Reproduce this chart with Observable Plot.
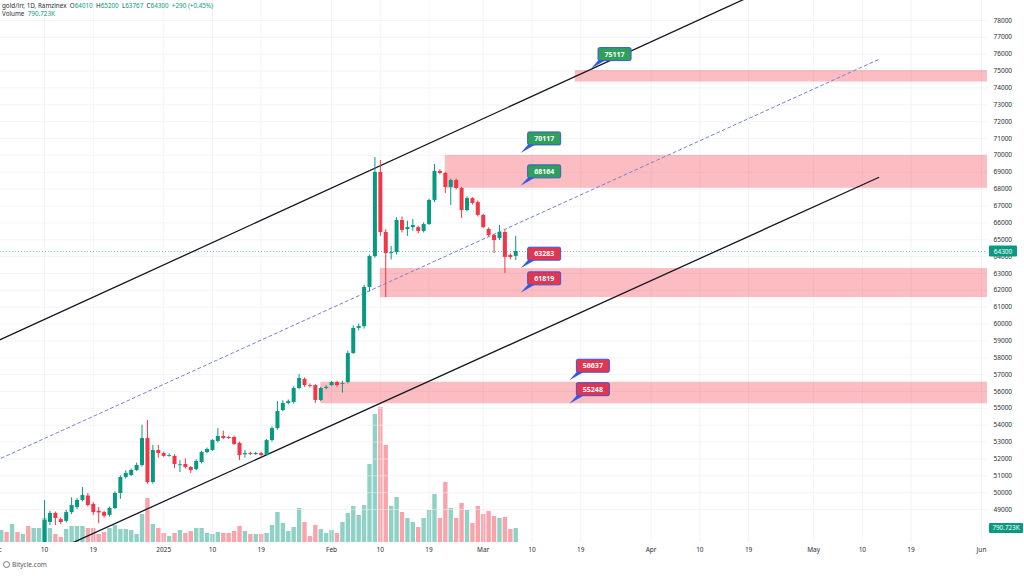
<!DOCTYPE html>
<html><head><meta charset="utf-8">
<script src="https://cdn.jsdelivr.net/npm/d3@7"></script>
<script src="https://cdn.jsdelivr.net/npm/@observablehq/plot@0.6"></script>
<style>
html,body{margin:0;padding:0;background:#fff;}
#wrap{position:relative;width:1024px;height:576px;overflow:hidden;font-family:"Noto Sans",sans-serif;}
#vol,#price{position:absolute;left:0;top:0;}
#hdr{position:absolute;left:2px;top:1.5px;font-size:6.3px;color:#2a2e39;line-height:8.5px;white-space:pre;}
#hdr .v{color:#089981;}
#foot{position:absolute;left:3px;top:560px;font-size:6.5px;color:#555;}
#foot .logo{display:inline-block;width:5px;height:5px;border:1px solid #777;border-radius:50%;margin-right:2px;vertical-align:-1px;}
</style></head>
<body>
<div id="wrap">
  <div id="vol"></div>
  <div id="price"></div>
  <div id="hdr"></div>
  <div id="foot"><span class="logo"></span>Bitycle.com</div>
</div>
<script>
// ---------- DATA ----------
const firstCandle = "2024-12-10";   // daily bars, consecutive days
const opens  = [47050,48230,48770,48400,48300,48820,49120,49540,49800,49300,48900,48820,48650,49060,49950,50900,51020,51320,51610,53210,50600,52500,52320,52150,52150,51600,51670,51490,51370,51790,52380,52500,53040,53330,53270,53270,52920,52250,52320,52260,52320,52200,53090,53800,54870,55290,55350,56180,56710,56350,56350,55470,56180,56350,56530,56420,56530,58250,59740,59850,62170,64000,68990,65430,64180,64240,66140,65600,65720,65720,65490,65900,67330,69050,68930,68100,68510,68040,66730,67440,67200,66440,65610,65250,65070,65430,64060,64010];
const highs  = [49540,48900,48850,48500,48950,49700,49650,50300,49950,49400,49120,48900,49150,50050,51000,51300,51400,51750,54000,54280,52800,52800,52400,52300,52250,51900,52000,51550,51950,52450,52650,53150,53800,53650,53350,53350,53000,52500,52400,52400,52400,53150,53900,55400,55450,55500,56300,57010,56800,56450,56400,56250,56350,56600,56600,56600,58400,59900,60000,62300,64100,69880,69700,65600,64600,66300,66350,66100,66200,65800,66000,67400,69460,69150,69000,68600,68600,68100,67550,67500,67300,66500,65700,65300,65850,65550,64150,65200];
const lows   = [46950,48050,48050,48100,48200,48700,49000,49450,49150,48650,48170,48500,48550,49000,49600,50800,50950,51250,51500,50500,50500,52050,52100,52100,51430,51200,51400,51140,51300,51700,52300,52450,52950,53150,53150,52800,51900,52050,52200,52200,52100,52150,53000,53700,54800,55200,55250,56100,56250,56200,55290,55400,56100,56300,56250,55900,56450,58200,59600,59700,61900,63900,65200,61570,63800,64100,65400,65200,65500,65350,65400,65850,67200,68850,67740,67030,67950,66260,66650,67050,66350,65650,65150,64180,64950,63000,63800,63767];
const closes = [48350,48770,48470,48230,48820,49240,49540,49830,49240,48820,48800,48600,49060,49950,50900,51140,51320,51610,53210,50600,52500,52320,52150,52200,51670,51650,51490,51310,51850,52380,52560,53090,53330,53210,53210,52860,52200,52320,52260,52320,52200,53090,53800,54810,55290,55400,56180,56770,56350,56300,55470,56180,56240,56530,56350,56470,58250,59740,59850,62170,64000,68990,65430,64180,64240,66140,65550,65720,65840,65490,65900,67330,69050,68930,68100,68510,68040,66730,67440,67150,66440,65720,65250,64950,65430,63950,63950,64300];

const firstVolume = "2024-12-02";   // volume (thousands), consecutive days
const volumes = [678,565,1017,565,452,904,791,791,
  1356,791,452,282,734,904,904,904,791,791,452,565,791,960,734,734,678,452,1582,2486,1017,791,508,339,508,678,508,621,791,791,508,452,565,508,508,621,904,621,452,452,452,508,960,1695,1073,621,847,1921,1130,339,960,734,508,678,508,1130,1638,2034,1525,2090,4406,7231,7627,5480,2034,2542,1695,1356,1130,847,1356,1808,2712,1356,3390,1921,1356,2203,1808,1073,2034,1582,1751,1469,1356,1412,734,790.723];
const earlyVolumeUp = [true,false,true,false,true,false,true,true]; // Dec 2 – Dec 9 (candles off-screen)

const zoneStarts  = ["2025-03-18","2025-02-22","2025-02-10","2025-01-30"];
const zoneEnd     = "2025-06-15";
const zoneTops    = [75035,70000,63290,56550];
const zoneBottoms = [74350,68050,61570,55270];

const calloutDates  = ["2025-03-21","2025-03-08","2025-03-08","2025-03-08","2025-03-08","2025-03-17","2025-03-17"];
const calloutValues = [75117,70117,68164,63283,61819,56637,55248];
const calloutUp     = [true,true,true,false,false,false,false];

const upperChannelDates  = ["2024-12-01","2025-04-20"];
const upperChannelPrices = [58950,79530];
const lowerChannelDates  = ["2024-12-10","2025-05-13"];
const lowerChannelPrices = [46275,68690];
const midLineDates       = ["2024-12-01","2025-05-13"];
const midLinePrices      = [51900,75687];

const priceTicks = d3.range(49000, 78001, 1000);
const timeTickDates  = ["2024-12-01","2024-12-10","2024-12-19","2025-01-01","2025-01-10","2025-01-19","2025-02-01","2025-02-10","2025-02-19","2025-03-01","2025-03-10","2025-03-19","2025-04-01","2025-04-10","2025-04-19","2025-05-01","2025-05-10","2025-05-19","2025-06-01"];
const timeTickLabels = ["Dec","10","19","2025","10","19","Feb","10","19","Mar","10","19","Apr","10","19","May","10","19","Jun"];

const lastOpen = 64010, lastHigh = 65200, lastLow = 63767, lastClose = 64300, change = 290, changePct = 0.45;
const lastVolumeLabel = "790.723K";

// ---------- BUILD ----------
const UP = "#089981", DOWN = "#f23645";
const day = s => new Date(s + "T00:00:00Z");
const candles = opens.map((o, i) => ({date: d3.utcDay.offset(day(firstCandle), i), open: o, high: highs[i], low: lows[i], close: closes[i]}));
const candleUp = new Map(candles.map(c => [+c.date, c.close >= c.open]));
const vols = volumes.map((v, i) => {
  const date = d3.utcDay.offset(day(firstVolume), i);
  const up = i < earlyVolumeUp.length ? earlyVolumeUp[i] : candleUp.get(+date);
  return {date, v, up};
});
const zones = zoneStarts.map((s, i) => ({start: day(s), end: day(zoneEnd), top: zoneTops[i], bottom: zoneBottoms[i]}));
const pts = (ds, ps) => ds.map((d, i) => ({date: day(d), price: ps[i]}));
const tickDates = timeTickDates.map(day);
const tickLabelMap = new Map(timeTickDates.map((d, i) => [+day(d), timeTickLabels[i]]));

const W = 1024, H = 560, MR = 37, MB = 18;
const xDomain = [day("2024-12-01"), day("2025-06-01")], xRange = [-4.7, 981];
const baseStyle = {background: "transparent", fontFamily: "'Noto Sans', sans-serif", fontSize: "6.5px", color: "#2a2e39"};

function callouts(index, scales) {
  const g = d3.create("svg:g");
  calloutValues.forEach((v, i) => {
    const X = scales.x(day(calloutDates[i])), Y = scales.y(v);
    g.append("path").attr("d", `M${X},${Y}L${X + 8},${Y - 9}L${X + 14},${Y - 8}Z`).attr("fill", "#2f5be8");
    g.append("rect").attr("x", X + 7).attr("y", Y - 21).attr("width", 33).attr("height", 13).attr("rx", 1.5)
      .attr("fill", calloutUp[i] ? "#2ea05c" : "#e23650").attr("stroke", "#3d55d8").attr("stroke-width", 1);
    g.append("text").attr("x", X + 23.5).attr("y", Y - 14.3).attr("text-anchor", "middle").attr("dominant-baseline", "central")
      .attr("fill", "#fff").attr("font-weight", "bold").attr("font-size", "7px").text(v);
  });
  return g.node();
}
function priceTag(index, scales, values, dims) {
  const g = d3.create("svg:g");
  const Y = scales.y(lastClose), X = dims.width - dims.marginRight + 2;
  g.append("rect").attr("x", X).attr("y", Y - 5.5).attr("width", 28).attr("height", 11).attr("rx", 1).attr("fill", UP);
  g.append("text").attr("x", X + 14).attr("y", Y).attr("text-anchor", "middle").attr("dominant-baseline", "central")
    .attr("fill", "#fff").attr("font-size", "6.5px").text(lastClose);
  return g.node();
}
function volTag(index, scales, values, dims) {
  const g = d3.create("svg:g");
  const Y = scales.y(volumes[volumes.length - 1]), X = dims.width - dims.marginRight + 2;
  g.append("rect").attr("x", X).attr("y", Y - 5).attr("width", 34).attr("height", 10).attr("rx", 1).attr("fill", UP);
  g.append("text").attr("x", X + 17).attr("y", Y).attr("text-anchor", "middle").attr("dominant-baseline", "central")
    .attr("fill", "#fff").attr("font-size", "6.3px").text(lastVolumeLabel);
  return g.node();
}

const volPlot = Plot.plot({
  width: W, height: H, marginLeft: 0, marginRight: MR, marginTop: 0, marginBottom: MB,
  x: {type: "utc", domain: xDomain, range: xRange, axis: null},
  y: {domain: [0, 30600], axis: null},
  style: {...baseStyle, background: "#fff"},
  marks: [
    Plot.ruleX(vols, {x: "date", y1: 0, y2: "v", stroke: d => d.up ? UP : DOWN, strokeOpacity: 0.45, strokeWidth: 4.4, clip: true}),
    volTag
  ]
});
document.getElementById("vol").append(volPlot);

const pricePlot = Plot.plot({
  width: W, height: H, marginLeft: 0, marginRight: MR, marginTop: 0, marginBottom: MB,
  x: {type: "utc", domain: xDomain, range: xRange},
  y: {domain: [47045, 79186]},
  style: baseStyle,
  marks: [
    Plot.gridY(priceTicks, {stroke: "#e9ecf2", strokeOpacity: 0.6}),
    Plot.gridX(tickDates, {stroke: "#e9ecf2", strokeOpacity: 0.6}),
    Plot.rect(zones, {x1: "start", x2: "end", y1: "bottom", y2: "top", fill: DOWN, fillOpacity: 0.33, clip: true}),
    Plot.ruleY([lastClose], {stroke: UP, strokeOpacity: 0.55, strokeDasharray: "1,2"}),
    Plot.line(pts(midLineDates, midLinePrices), {x: "date", y: "price", stroke: "#7a7fd4", strokeWidth: 1, strokeDasharray: "3,3", clip: true}),
    Plot.line(pts(upperChannelDates, upperChannelPrices), {x: "date", y: "price", stroke: "#131722", strokeWidth: 1.3, clip: true}),
    Plot.line(pts(lowerChannelDates, lowerChannelPrices), {x: "date", y: "price", stroke: "#131722", strokeWidth: 1.3, clip: true}),
    Plot.ruleX(candles, {x: "date", y1: "low", y2: "high", stroke: d => d.close >= d.open ? UP : DOWN, strokeWidth: 1, clip: true}),
    Plot.ruleX(candles, {x: "date", y1: "open", y2: "close", stroke: d => d.close >= d.open ? UP : DOWN, strokeWidth: 4, clip: true}),
    Plot.axisY({anchor: "right", ticks: priceTicks, tickFormat: d3.format("d"), tickSize: 0, tickPadding: 6, fill: "#2a2e39", fontSize: 6.5}),
    Plot.axisX({ticks: tickDates, tickFormat: d => tickLabelMap.get(+d), tickSize: 0, tickPadding: 5, fill: "#2a2e39", fontSize: 6.5}),
    callouts,
    priceTag
  ]
});
document.getElementById("price").append(pricePlot);

const sign = change >= 0 ? "+" : "";
document.getElementById("hdr").innerHTML =
  `gold/irr, 1D, Ramzinex  O<span class="v">${lastOpen}</span>  H<span class="v">${lastHigh}</span>  L<span class="v">${lastLow}</span>  C<span class="v">${lastClose}</span>  <span class="v">${sign}${change} (${sign}${changePct.toFixed(2)}%)</span>\nVolume  <span class="v">${lastVolumeLabel}</span>`;
</script>
</body></html>
